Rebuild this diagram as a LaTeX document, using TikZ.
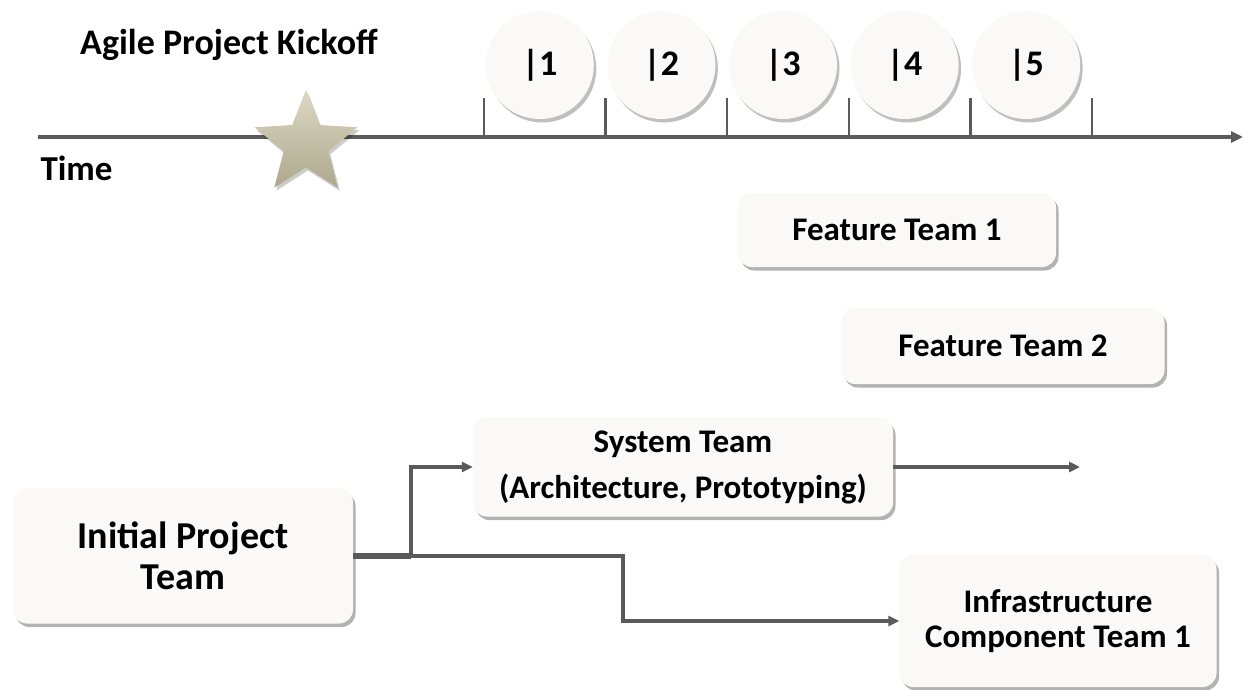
\documentclass[tikz,border=0pt]{standalone}
\usepackage{fontspec}
\setmainfont{Carlito}
\usepackage{tikz}
\usetikzlibrary{shadows,shapes.geometric,arrows.meta,calc}
\usetikzlibrary{positioning}
\definecolor{boxwhite}{HTML}{FAF9F7}
\definecolor{linegray}{HTML}{5A5A5A}
\definecolor{starlight}{HTML}{DCD8C4}
\definecolor{stardark}{HTML}{ADA88C}
\newcommand{\Nsprint}{5}
\newcommand{\SprintW}{121.6}
\newcommand{\SprintX}{484}

\begin{document}
\begin{tikzpicture}[x=1pt,y=-1pt,
    teambox/.style={rounded corners=14pt, fill=boxwhite, align=center, inner sep=0pt,
        drop shadow={shadow xshift=2.5pt, shadow yshift=-3.5pt, fill=black, opacity=0.3},
        font=\bfseries\fontsize{33}{35}\selectfont},
    sprint/.style={circle, fill=boxwhite, minimum size=108pt, inner sep=0pt,
        drop shadow={shadow xshift=2.5pt, shadow yshift=-3.5pt, fill=black, opacity=0.25},
        font=\bfseries\fontsize{36}{40}\selectfont},
    flow/.style={draw=linegray, line width=3.5pt},
    arr/.style={flow, -{Triangle[length=11pt,width=10pt]}}]
            \useasboundingbox (0,0) rectangle (1243,689);
            \fill[white] (0,0) rectangle (1243,689);

            % the time axis
            \path (38,137) coordinate (T0);
            \path (1243,137) coordinate (T1);
            \draw [draw=linegray, line width=4.5pt, -{Triangle[length=12pt,width=11pt]}] (T0) -- (T1);
            \node (time) [anchor=west, font=\bfseries\fontsize{35}{38}\selectfont] at (37,168) {Time};

            % sprints
            \foreach \X in {0,...,\Nsprint}{
            \draw [linegray, line width=2.5pt] (\SprintX+\X*\SprintW,98) -- (\SprintX+\X*\SprintW,137);
            }
            \foreach \X in {1,...,\Nsprint}{
            \node (S\X) [sprint] at (\SprintX+\X*\SprintW-0.5*\SprintW-5,65) {|\X};
            }

            % kickoff
            \node (kick) [font=\bfseries\fontsize{36}{40}\selectfont] at (229,45) {Agile Project Kickoff};
            \node (star) [star, star points=5, star point ratio=2.3, minimum size=108pt, inner sep=0pt,
                top color=starlight, bottom color=stardark,
                drop shadow={shadow xshift=2pt, shadow yshift=-3pt, fill=black, opacity=0.2}] at (306,144) {};

            % teams
            \node (ft1) [teambox, minimum width=318pt, minimum height=74pt] at (897,230) {Feature Team 1};
            \node (ft2) [teambox, minimum width=323pt, minimum height=76pt] at (1003,346) {Feature Team 2};
            \node (sys) [teambox, minimum width=420pt, minimum height=99pt, font=\bfseries\fontsize{33}{46}\selectfont] at (683,467) {System Team\\(Architecture, Prototyping)};
            \node (init) [teambox, minimum width=340pt, minimum height=135pt, font=\bfseries\fontsize{38}{41}\selectfont] at (183,556) {Initial Project\\Team};
            \node (infra) [teambox, minimum width=317pt, minimum height=132pt] at (1058,621) {Infrastructure\\Component Team 1};

            % connectors
            \path (411,556) coordinate (split);
            \path (1080,467) coordinate (sysend);
            \draw [flow, line width=5.5pt] (init.east) -- (split);
            \draw [arr] (split) |- (sys.west);
            \draw [arr] (split) -- ++(212,0) |- (infra.west);
            \draw [arr] (sys.east) -- (sysend);

        \end{tikzpicture}
\end{document}
